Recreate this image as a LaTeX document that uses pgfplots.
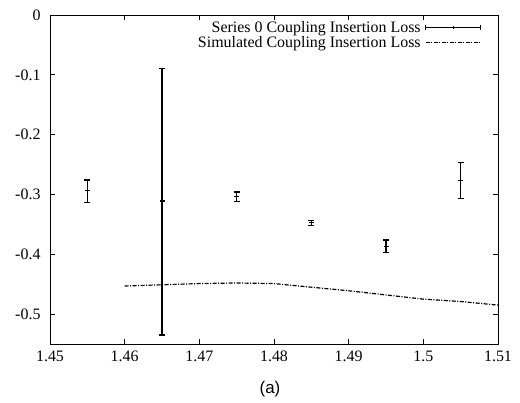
\documentclass[border=0pt]{standalone}
\usepackage{pgfplots}
\pgfplotsset{compat=1.18}
\usepackage{fontspec}
\setmainfont{Liberation Serif}
\newfontfamily\arialfont{Liberation Sans}
\pgfplotsset{
  ebleg/.style={legend image code/.code={%
    \path (0bp,0bp);
    \draw[black, line width=1.2bp] (4bp,0bp) -- (59bp,0bp);
    \draw[black, line width=1.2bp] (4bp,-2.5bp) -- (4bp,2.5bp);
    \draw[black, line width=1.2bp] (59bp,-2.5bp) -- (59bp,2.5bp);
    \draw[black, line width=1.2bp] (31.5bp,-1.5bp) -- (31.5bp,1.5bp);}},
  simleg/.style={legend image code/.code={%
    \path (0bp,0bp);
    \draw[black, line width=1.2bp, dash pattern=on 4bp off 1.5bp on 1bp off 1.5bp] (4bp,0bp) -- (59bp,0bp);}},
}
\begin{document}
\begin{tikzpicture}
\begin{axis}[
  scale only axis,
  width=448bp, height=329bp,
  xmin=1.45, xmax=1.51, ymin=-0.55, ymax=0,
  xtick={1.45,1.46,1.47,1.48,1.49,1.5,1.51},
  ytick={0,-0.1,-0.2,-0.3,-0.4,-0.5},
  scaled ticks=false,
  tick align=inside,
  major tick length=5bp,
  tick style={black, line width=0.8bp},
  axis line style={black, line width=0.8bp},
  /pgf/number format/assume math mode=true,
  ticklabel style={font=\fontsize{16}{16}\selectfont},
  xticklabel style={yshift=-3bp},
  yticklabel style={xshift=-6bp},
  legend style={draw=none, fill=none, at={(0.970,0.99)}, anchor=north east,
    font=\fontsize{16}{16}\selectfont, legend cell align=right,
    row sep=2bp, nodes={inner sep=0.5bp}},
  legend plot pos=right,
]
\addplot[black, only marks, mark=-, mark size=2.5bp, line width=1.2bp, ebleg,
  error bars/.cd, y dir=both, y explicit, error mark=|,
  error mark options={mark size=3bp, line width=1.2bp, black},
  error bar style={line width=1.1bp, black}]
  coordinates {
  (1.455,-0.294) += (0,0.018) -= (0,0.020)
  (1.465,-0.311) += (0,0.222) -= (0,0.224)
  (1.475,-0.304) += (0,0.008) -= (0,0.008)
  (1.485,-0.347) += (0,0.004) -= (0,0.005)
  (1.495,-0.387) += (0,0.011) -= (0,0.010)
  (1.505,-0.277) += (0,0.031) -= (0,0.030)
  };
\addlegendentry{Series 0 Coupling Insertion Loss}
\addplot[black, line width=1.2bp, dash pattern=on 4bp off 1.5bp on 1bp off 1.5bp, simleg]
  coordinates {
  (1.460,-0.453) (1.465,-0.451) (1.470,-0.449) (1.475,-0.448)
  (1.480,-0.449) (1.485,-0.455) (1.490,-0.461) (1.495,-0.468)
  (1.500,-0.475) (1.505,-0.479) (1.510,-0.485)
  };
\addlegendentry{Simulated Coupling Insertion Loss}
\end{axis}
\node[font=\arialfont\fontsize{17}{17}\selectfont] at (220bp,-45bp) {(a)};
\pgfresetboundingbox
\path (-50bp,-59bp) rectangle (470bp,344bp);
\end{tikzpicture}
\end{document}
